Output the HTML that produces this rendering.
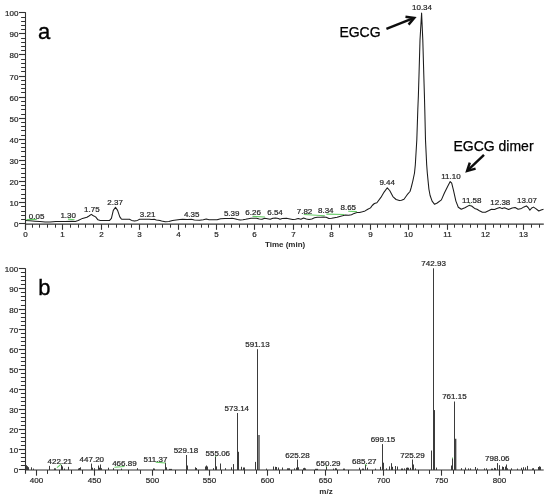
<!DOCTYPE html>
<html><head><meta charset="utf-8"><style>
html,body{margin:0;padding:0;background:#fff;}
body{width:550px;height:498px;overflow:hidden;}
svg{display:block;will-change:transform;}
text{font-family:"Liberation Sans",sans-serif;fill:#282828;}
.t{font-size:8px;stroke:#282828;stroke-width:0.22px;}
.tb{font-size:8px;font-weight:bold;}
.big{font-size:22px;fill:#000;stroke:#000;stroke-width:0.35px;}
.ann{font-size:14px;fill:#000;stroke:#000;stroke-width:0.25px;}
</style></head><body>
<svg width="550" height="498" viewBox="0 0 550 498">
<defs><filter id="bl" x="0" y="0" width="1" height="1"><feGaussianBlur stdDeviation="0.35"/></filter></defs>
<g filter="url(#bl)">
<rect width="550" height="498" fill="#fff"/>
<line x1="25.5" y1="12.20" x2="25.5" y2="229.70" stroke="#333333" stroke-width="1.1"/>
<line x1="19" y1="223.50" x2="25.5" y2="223.50" stroke="#333333" stroke-width="1.1"/>
<text x="18.4" y="227.00" text-anchor="end" class="t">0</text>
<line x1="21.1" y1="219.50" x2="25.5" y2="219.50" stroke="#333333" stroke-width="1.0"/>
<line x1="21.1" y1="215.50" x2="25.5" y2="215.50" stroke="#333333" stroke-width="1.0"/>
<line x1="21.1" y1="211.50" x2="25.5" y2="211.50" stroke="#333333" stroke-width="1.0"/>
<line x1="21.1" y1="206.50" x2="25.5" y2="206.50" stroke="#333333" stroke-width="1.0"/>
<line x1="19" y1="202.50" x2="25.5" y2="202.50" stroke="#333333" stroke-width="1.1"/>
<text x="18.4" y="206.00" text-anchor="end" class="t">10</text>
<line x1="21.1" y1="198.50" x2="25.5" y2="198.50" stroke="#333333" stroke-width="1.0"/>
<line x1="21.1" y1="194.50" x2="25.5" y2="194.50" stroke="#333333" stroke-width="1.0"/>
<line x1="21.1" y1="189.50" x2="25.5" y2="189.50" stroke="#333333" stroke-width="1.0"/>
<line x1="21.1" y1="185.50" x2="25.5" y2="185.50" stroke="#333333" stroke-width="1.0"/>
<line x1="19" y1="181.50" x2="25.5" y2="181.50" stroke="#333333" stroke-width="1.1"/>
<text x="18.4" y="185.00" text-anchor="end" class="t">20</text>
<line x1="21.1" y1="177.50" x2="25.5" y2="177.50" stroke="#333333" stroke-width="1.0"/>
<line x1="21.1" y1="173.50" x2="25.5" y2="173.50" stroke="#333333" stroke-width="1.0"/>
<line x1="21.1" y1="168.50" x2="25.5" y2="168.50" stroke="#333333" stroke-width="1.0"/>
<line x1="21.1" y1="164.50" x2="25.5" y2="164.50" stroke="#333333" stroke-width="1.0"/>
<line x1="19" y1="160.50" x2="25.5" y2="160.50" stroke="#333333" stroke-width="1.1"/>
<text x="18.4" y="164.00" text-anchor="end" class="t">30</text>
<line x1="21.1" y1="156.50" x2="25.5" y2="156.50" stroke="#333333" stroke-width="1.0"/>
<line x1="21.1" y1="151.50" x2="25.5" y2="151.50" stroke="#333333" stroke-width="1.0"/>
<line x1="21.1" y1="147.50" x2="25.5" y2="147.50" stroke="#333333" stroke-width="1.0"/>
<line x1="21.1" y1="143.50" x2="25.5" y2="143.50" stroke="#333333" stroke-width="1.0"/>
<line x1="19" y1="139.50" x2="25.5" y2="139.50" stroke="#333333" stroke-width="1.1"/>
<text x="18.4" y="143.00" text-anchor="end" class="t">40</text>
<line x1="21.1" y1="135.50" x2="25.5" y2="135.50" stroke="#333333" stroke-width="1.0"/>
<line x1="21.1" y1="130.50" x2="25.5" y2="130.50" stroke="#333333" stroke-width="1.0"/>
<line x1="21.1" y1="126.50" x2="25.5" y2="126.50" stroke="#333333" stroke-width="1.0"/>
<line x1="21.1" y1="122.50" x2="25.5" y2="122.50" stroke="#333333" stroke-width="1.0"/>
<line x1="19" y1="118.50" x2="25.5" y2="118.50" stroke="#333333" stroke-width="1.1"/>
<text x="18.4" y="122.00" text-anchor="end" class="t">50</text>
<line x1="21.1" y1="114.50" x2="25.5" y2="114.50" stroke="#333333" stroke-width="1.0"/>
<line x1="21.1" y1="109.50" x2="25.5" y2="109.50" stroke="#333333" stroke-width="1.0"/>
<line x1="21.1" y1="105.50" x2="25.5" y2="105.50" stroke="#333333" stroke-width="1.0"/>
<line x1="21.1" y1="101.50" x2="25.5" y2="101.50" stroke="#333333" stroke-width="1.0"/>
<line x1="19" y1="97.50" x2="25.5" y2="97.50" stroke="#333333" stroke-width="1.1"/>
<text x="18.4" y="101.00" text-anchor="end" class="t">60</text>
<line x1="21.1" y1="92.50" x2="25.5" y2="92.50" stroke="#333333" stroke-width="1.0"/>
<line x1="21.1" y1="88.50" x2="25.5" y2="88.50" stroke="#333333" stroke-width="1.0"/>
<line x1="21.1" y1="84.50" x2="25.5" y2="84.50" stroke="#333333" stroke-width="1.0"/>
<line x1="21.1" y1="80.50" x2="25.5" y2="80.50" stroke="#333333" stroke-width="1.0"/>
<line x1="19" y1="76.50" x2="25.5" y2="76.50" stroke="#333333" stroke-width="1.1"/>
<text x="18.4" y="80.00" text-anchor="end" class="t">70</text>
<line x1="21.1" y1="71.50" x2="25.5" y2="71.50" stroke="#333333" stroke-width="1.0"/>
<line x1="21.1" y1="67.50" x2="25.5" y2="67.50" stroke="#333333" stroke-width="1.0"/>
<line x1="21.1" y1="63.50" x2="25.5" y2="63.50" stroke="#333333" stroke-width="1.0"/>
<line x1="21.1" y1="59.50" x2="25.5" y2="59.50" stroke="#333333" stroke-width="1.0"/>
<line x1="19" y1="54.50" x2="25.5" y2="54.50" stroke="#333333" stroke-width="1.1"/>
<text x="18.4" y="58.00" text-anchor="end" class="t">80</text>
<line x1="21.1" y1="50.50" x2="25.5" y2="50.50" stroke="#333333" stroke-width="1.0"/>
<line x1="21.1" y1="46.50" x2="25.5" y2="46.50" stroke="#333333" stroke-width="1.0"/>
<line x1="21.1" y1="42.50" x2="25.5" y2="42.50" stroke="#333333" stroke-width="1.0"/>
<line x1="21.1" y1="38.50" x2="25.5" y2="38.50" stroke="#333333" stroke-width="1.0"/>
<line x1="19" y1="33.50" x2="25.5" y2="33.50" stroke="#333333" stroke-width="1.1"/>
<text x="18.4" y="37.00" text-anchor="end" class="t">90</text>
<line x1="21.1" y1="29.50" x2="25.5" y2="29.50" stroke="#333333" stroke-width="1.0"/>
<line x1="21.1" y1="25.50" x2="25.5" y2="25.50" stroke="#333333" stroke-width="1.0"/>
<line x1="21.1" y1="21.50" x2="25.5" y2="21.50" stroke="#333333" stroke-width="1.0"/>
<line x1="21.1" y1="17.50" x2="25.5" y2="17.50" stroke="#333333" stroke-width="1.0"/>
<line x1="19" y1="12.50" x2="25.5" y2="12.50" stroke="#333333" stroke-width="1.1"/>
<text x="18.4" y="16.00" text-anchor="end" class="t">100</text>
<line x1="25.5" y1="224.2" x2="543.8" y2="224.2" stroke="#333333" stroke-width="1.3"/>
<line x1="25.50" y1="224.2" x2="25.50" y2="229.8" stroke="#333333" stroke-width="1.1"/>
<text x="25.50" y="236.7" text-anchor="middle" class="t">0</text>
<line x1="32.50" y1="224.2" x2="32.50" y2="227.7" stroke="#333333" stroke-width="1.0"/>
<line x1="39.50" y1="224.2" x2="39.50" y2="227.7" stroke="#333333" stroke-width="1.0"/>
<line x1="47.50" y1="224.2" x2="47.50" y2="227.7" stroke="#333333" stroke-width="1.0"/>
<line x1="55.50" y1="224.2" x2="55.50" y2="227.7" stroke="#333333" stroke-width="1.0"/>
<line x1="62.50" y1="224.2" x2="62.50" y2="229.8" stroke="#333333" stroke-width="1.1"/>
<text x="62.50" y="236.7" text-anchor="middle" class="t">1</text>
<line x1="70.50" y1="224.2" x2="70.50" y2="227.7" stroke="#333333" stroke-width="1.0"/>
<line x1="78.50" y1="224.2" x2="78.50" y2="227.7" stroke="#333333" stroke-width="1.0"/>
<line x1="85.50" y1="224.2" x2="85.50" y2="227.7" stroke="#333333" stroke-width="1.0"/>
<line x1="93.50" y1="224.2" x2="93.50" y2="227.7" stroke="#333333" stroke-width="1.0"/>
<line x1="101.50" y1="224.2" x2="101.50" y2="229.8" stroke="#333333" stroke-width="1.1"/>
<text x="101.50" y="236.7" text-anchor="middle" class="t">2</text>
<line x1="108.50" y1="224.2" x2="108.50" y2="227.7" stroke="#333333" stroke-width="1.0"/>
<line x1="116.50" y1="224.2" x2="116.50" y2="227.7" stroke="#333333" stroke-width="1.0"/>
<line x1="124.50" y1="224.2" x2="124.50" y2="227.7" stroke="#333333" stroke-width="1.0"/>
<line x1="131.50" y1="224.2" x2="131.50" y2="227.7" stroke="#333333" stroke-width="1.0"/>
<line x1="139.50" y1="224.2" x2="139.50" y2="229.8" stroke="#333333" stroke-width="1.1"/>
<text x="139.50" y="236.7" text-anchor="middle" class="t">3</text>
<line x1="147.50" y1="224.2" x2="147.50" y2="227.7" stroke="#333333" stroke-width="1.0"/>
<line x1="155.50" y1="224.2" x2="155.50" y2="227.7" stroke="#333333" stroke-width="1.0"/>
<line x1="162.50" y1="224.2" x2="162.50" y2="227.7" stroke="#333333" stroke-width="1.0"/>
<line x1="170.50" y1="224.2" x2="170.50" y2="227.7" stroke="#333333" stroke-width="1.0"/>
<line x1="178.50" y1="224.2" x2="178.50" y2="229.8" stroke="#333333" stroke-width="1.1"/>
<text x="178.50" y="236.7" text-anchor="middle" class="t">4</text>
<line x1="185.50" y1="224.2" x2="185.50" y2="227.7" stroke="#333333" stroke-width="1.0"/>
<line x1="193.50" y1="224.2" x2="193.50" y2="227.7" stroke="#333333" stroke-width="1.0"/>
<line x1="201.50" y1="224.2" x2="201.50" y2="227.7" stroke="#333333" stroke-width="1.0"/>
<line x1="208.50" y1="224.2" x2="208.50" y2="227.7" stroke="#333333" stroke-width="1.0"/>
<line x1="216.50" y1="224.2" x2="216.50" y2="229.8" stroke="#333333" stroke-width="1.1"/>
<text x="216.50" y="236.7" text-anchor="middle" class="t">5</text>
<line x1="224.50" y1="224.2" x2="224.50" y2="227.7" stroke="#333333" stroke-width="1.0"/>
<line x1="231.50" y1="224.2" x2="231.50" y2="227.7" stroke="#333333" stroke-width="1.0"/>
<line x1="239.50" y1="224.2" x2="239.50" y2="227.7" stroke="#333333" stroke-width="1.0"/>
<line x1="247.50" y1="224.2" x2="247.50" y2="227.7" stroke="#333333" stroke-width="1.0"/>
<line x1="254.50" y1="224.2" x2="254.50" y2="229.8" stroke="#333333" stroke-width="1.1"/>
<text x="254.50" y="236.7" text-anchor="middle" class="t">6</text>
<line x1="262.50" y1="224.2" x2="262.50" y2="227.7" stroke="#333333" stroke-width="1.0"/>
<line x1="270.50" y1="224.2" x2="270.50" y2="227.7" stroke="#333333" stroke-width="1.0"/>
<line x1="277.50" y1="224.2" x2="277.50" y2="227.7" stroke="#333333" stroke-width="1.0"/>
<line x1="285.50" y1="224.2" x2="285.50" y2="227.7" stroke="#333333" stroke-width="1.0"/>
<line x1="293.50" y1="224.2" x2="293.50" y2="229.8" stroke="#333333" stroke-width="1.1"/>
<text x="293.50" y="236.7" text-anchor="middle" class="t">7</text>
<line x1="301.50" y1="224.2" x2="301.50" y2="227.7" stroke="#333333" stroke-width="1.0"/>
<line x1="308.50" y1="224.2" x2="308.50" y2="227.7" stroke="#333333" stroke-width="1.0"/>
<line x1="316.50" y1="224.2" x2="316.50" y2="227.7" stroke="#333333" stroke-width="1.0"/>
<line x1="324.50" y1="224.2" x2="324.50" y2="227.7" stroke="#333333" stroke-width="1.0"/>
<line x1="331.50" y1="224.2" x2="331.50" y2="229.8" stroke="#333333" stroke-width="1.1"/>
<text x="331.50" y="236.7" text-anchor="middle" class="t">8</text>
<line x1="339.50" y1="224.2" x2="339.50" y2="227.7" stroke="#333333" stroke-width="1.0"/>
<line x1="347.50" y1="224.2" x2="347.50" y2="227.7" stroke="#333333" stroke-width="1.0"/>
<line x1="354.50" y1="224.2" x2="354.50" y2="227.7" stroke="#333333" stroke-width="1.0"/>
<line x1="362.50" y1="224.2" x2="362.50" y2="227.7" stroke="#333333" stroke-width="1.0"/>
<line x1="370.50" y1="224.2" x2="370.50" y2="229.8" stroke="#333333" stroke-width="1.1"/>
<text x="370.50" y="236.7" text-anchor="middle" class="t">9</text>
<line x1="377.50" y1="224.2" x2="377.50" y2="227.7" stroke="#333333" stroke-width="1.0"/>
<line x1="385.50" y1="224.2" x2="385.50" y2="227.7" stroke="#333333" stroke-width="1.0"/>
<line x1="393.50" y1="224.2" x2="393.50" y2="227.7" stroke="#333333" stroke-width="1.0"/>
<line x1="400.50" y1="224.2" x2="400.50" y2="227.7" stroke="#333333" stroke-width="1.0"/>
<line x1="408.50" y1="224.2" x2="408.50" y2="229.8" stroke="#333333" stroke-width="1.1"/>
<text x="408.50" y="236.7" text-anchor="middle" class="t">10</text>
<line x1="416.50" y1="224.2" x2="416.50" y2="227.7" stroke="#333333" stroke-width="1.0"/>
<line x1="423.50" y1="224.2" x2="423.50" y2="227.7" stroke="#333333" stroke-width="1.0"/>
<line x1="431.50" y1="224.2" x2="431.50" y2="227.7" stroke="#333333" stroke-width="1.0"/>
<line x1="439.50" y1="224.2" x2="439.50" y2="227.7" stroke="#333333" stroke-width="1.0"/>
<line x1="447.50" y1="224.2" x2="447.50" y2="229.8" stroke="#333333" stroke-width="1.1"/>
<text x="447.50" y="236.7" text-anchor="middle" class="t">11</text>
<line x1="454.50" y1="224.2" x2="454.50" y2="227.7" stroke="#333333" stroke-width="1.0"/>
<line x1="462.50" y1="224.2" x2="462.50" y2="227.7" stroke="#333333" stroke-width="1.0"/>
<line x1="470.50" y1="224.2" x2="470.50" y2="227.7" stroke="#333333" stroke-width="1.0"/>
<line x1="477.50" y1="224.2" x2="477.50" y2="227.7" stroke="#333333" stroke-width="1.0"/>
<line x1="485.50" y1="224.2" x2="485.50" y2="229.8" stroke="#333333" stroke-width="1.1"/>
<text x="485.50" y="236.7" text-anchor="middle" class="t">12</text>
<line x1="493.50" y1="224.2" x2="493.50" y2="227.7" stroke="#333333" stroke-width="1.0"/>
<line x1="500.50" y1="224.2" x2="500.50" y2="227.7" stroke="#333333" stroke-width="1.0"/>
<line x1="508.50" y1="224.2" x2="508.50" y2="227.7" stroke="#333333" stroke-width="1.0"/>
<line x1="516.50" y1="224.2" x2="516.50" y2="227.7" stroke="#333333" stroke-width="1.0"/>
<line x1="523.50" y1="224.2" x2="523.50" y2="229.8" stroke="#333333" stroke-width="1.1"/>
<text x="523.50" y="236.7" text-anchor="middle" class="t">13</text>
<line x1="531.50" y1="224.2" x2="531.50" y2="227.7" stroke="#333333" stroke-width="1.0"/>
<line x1="539.50" y1="224.2" x2="539.50" y2="227.7" stroke="#333333" stroke-width="1.0"/>
<text x="285.1" y="247" text-anchor="middle" class="tb">Time (min)</text>
<polyline points="25.6,220.6 30.0,220.8 35.0,221.2 40.0,221.6 45.0,221.9 50.0,222.0 56.0,221.6 65.0,221.4 72.0,221.3 75.3,221.5 78.2,220.5 82.5,218.4 86.9,217.3 89.0,216.0 91.3,214.4 92.9,215.5 95.6,216.9 98.0,219.8 100.2,220.5 109.6,220.4 111.4,218.4 113.3,210.4 115.5,207.2 117.6,210.4 119.8,216.9 121.3,218.9 122.2,219.3 129.5,219.3 131.6,220.4 134.5,221.1 137.5,220.4 139.6,219.3 149.1,219.3 152.0,219.6 154.2,219.3 156.4,220.0 160.0,220.6 161.6,221.1 165.3,221.8 168.9,221.5 172.5,220.4 176.2,220.0 179.8,219.6 182.7,219.3 187.1,219.6 191.5,219.3 194.4,220.0 199.6,220.2 203.3,219.8 206.2,219.1 209.1,219.8 217.1,219.8 220.7,218.7 225.1,218.4 229.8,218.4 232.0,218.3 234.7,218.7 237.5,219.5 240.2,220.1 242.9,219.8 245.6,219.3 248.4,218.7 251.1,218.2 256.5,218.2 259.3,219.0 262.0,219.3 264.7,218.2 267.5,218.7 270.2,219.3 272.9,218.2 275.6,218.1 278.4,218.5 280.0,219.3 282.2,218.5 286.5,218.2 290.0,218.9 292.7,219.5 295.5,219.2 298.2,218.6 300.9,219.2 303.6,218.1 306.4,218.9 309.1,219.5 311.8,218.9 314.5,217.8 317.3,217.3 320.7,217.2 323.5,216.9 326.2,217.2 328.9,218.5 331.6,218.3 334.4,217.7 337.1,217.2 339.8,216.4 342.5,215.8 345.3,215.0 348.7,215.3 351.5,214.7 354.2,213.4 356.9,212.5 359.6,212.4 362.4,211.7 365.1,210.9 367.8,209.3 370.5,207.9 372.2,205.5 374.4,203.5 376.9,202.7 380.9,197.4 384.1,192.1 387.3,187.8 389.7,190.5 392.9,196.6 396.1,199.5 399.4,200.6 401.5,200.3 404.0,199.2 407.2,194.7 410.0,191.5 411.2,187.5 412.8,181.1 414.5,173.0 415.3,165.0 416.8,140.0 417.8,110.0 418.4,95.0 419.0,75.0 420.0,40.0 421.6,13.1 422.8,40.0 423.8,75.0 424.4,95.0 424.8,110.0 425.5,140.0 426.7,165.0 427.3,173.0 428.1,181.1 428.9,189.1 430.1,195.5 432.1,201.2 434.6,204.3 437.2,203.0 441.4,199.9 444.5,192.7 447.5,186.7 450.2,181.6 451.7,183.1 453.5,190.3 455.9,201.1 458.3,207.2 461.3,209.3 464.9,207.8 469.2,205.4 471.6,206.0 474.6,208.4 477.0,209.3 479.4,210.8 482.4,212.2 485.4,212.2 488.5,210.8 491.5,209.2 494.5,209.5 496.8,208.6 499.8,207.5 502.1,208.6 504.5,207.8 508.6,209.5 512.2,208.0 515.1,207.5 518.1,209.2 521.6,208.4 524.0,206.9 526.4,205.9 528.1,207.5 529.9,210.1 531.7,208.0 533.5,207.1 535.8,208.6 538.8,211.0 541.1,210.1 543.5,209.2" fill="none" stroke="#1a1a1a" stroke-width="1.05" stroke-linejoin="round"/>
<line x1="26.5" y1="219.6" x2="36.7" y2="219.4" stroke="#66cc66" stroke-width="1.1"/>
<line x1="68" y1="219.1" x2="74.5" y2="219.8" stroke="#66cc66" stroke-width="1.1"/>
<line x1="252.5" y1="216.4" x2="264.9" y2="217.0" stroke="#66cc66" stroke-width="1.1"/>
<line x1="303.8" y1="214.5" x2="324.9" y2="215.8" stroke="#66cc66" stroke-width="1.1"/>
<line x1="326.4" y1="214.1" x2="344.5" y2="214.5" stroke="#66cc66" stroke-width="1.1"/>
<line x1="348.2" y1="211.3" x2="356.9" y2="211.6" stroke="#66cc66" stroke-width="1.1"/>
<line x1="469.2" y1="203.9" x2="470.4" y2="203.4" stroke="#66cc66" stroke-width="1.1"/>
<text x="36.65" y="218.60" text-anchor="middle" class="t">0.05</text>
<text x="68.20" y="218.00" text-anchor="middle" class="t">1.30</text>
<text x="91.90" y="212.00" text-anchor="middle" class="t">1.75</text>
<text x="115.10" y="205.00" text-anchor="middle" class="t">2.37</text>
<text x="147.60" y="217.00" text-anchor="middle" class="t">3.21</text>
<text x="191.70" y="217.00" text-anchor="middle" class="t">4.35</text>
<text x="231.70" y="216.00" text-anchor="middle" class="t">5.39</text>
<text x="253.10" y="215.00" text-anchor="middle" class="t">6.26</text>
<text x="275.00" y="215.00" text-anchor="middle" class="t">6.54</text>
<text x="304.50" y="214.00" text-anchor="middle" class="t">7.82</text>
<text x="325.80" y="213.00" text-anchor="middle" class="t">8.34</text>
<text x="348.30" y="210.00" text-anchor="middle" class="t">8.65</text>
<text x="387.20" y="185.00" text-anchor="middle" class="t">9.44</text>
<text x="422.00" y="10.00" text-anchor="middle" class="t">10.34</text>
<text x="450.90" y="179.00" text-anchor="middle" class="t">11.10</text>
<text x="471.80" y="202.60" text-anchor="middle" class="t">11.58</text>
<text x="500.30" y="205.00" text-anchor="middle" class="t">12.38</text>
<text x="527.00" y="203.00" text-anchor="middle" class="t">13.07</text>
<text x="38.1" y="39" class="big">a</text>
<text x="360" y="37.0" text-anchor="middle" class="ann">EGCG</text>
<text x="493.5" y="151" text-anchor="middle" class="ann">EGCG dimer</text>
<line x1="386.4" y1="28.9" x2="413.46" y2="18.19" stroke="#111" stroke-width="2.5"/>
<polyline points="408.57,24.66 414.2,17.9 405.47,16.82" fill="none" stroke="#111" stroke-width="2.5" stroke-linejoin="miter" stroke-linecap="butt"/>
<line x1="484.0" y1="154.9" x2="467.68" y2="170.35" stroke="#111" stroke-width="2.5"/>
<polyline points="469.81,162.53 467.1,170.9 475.61,168.65" fill="none" stroke="#111" stroke-width="2.5" stroke-linejoin="miter" stroke-linecap="butt"/>
<line x1="25.5" y1="268.30" x2="25.5" y2="473.8" stroke="#333333" stroke-width="1.1"/>
<line x1="18.8" y1="469.50" x2="25.5" y2="469.50" stroke="#333333" stroke-width="1.1"/>
<text x="18.2" y="472.80" text-anchor="end" class="t">0</text>
<line x1="20.9" y1="465.50" x2="25.5" y2="465.50" stroke="#333333" stroke-width="1.0"/>
<line x1="20.9" y1="461.50" x2="25.5" y2="461.50" stroke="#333333" stroke-width="1.0"/>
<line x1="20.9" y1="457.50" x2="25.5" y2="457.50" stroke="#333333" stroke-width="1.0"/>
<line x1="20.9" y1="453.50" x2="25.5" y2="453.50" stroke="#333333" stroke-width="1.0"/>
<line x1="18.8" y1="449.50" x2="25.5" y2="449.50" stroke="#333333" stroke-width="1.1"/>
<text x="18.2" y="452.80" text-anchor="end" class="t">10</text>
<line x1="20.9" y1="445.50" x2="25.5" y2="445.50" stroke="#333333" stroke-width="1.0"/>
<line x1="20.9" y1="441.50" x2="25.5" y2="441.50" stroke="#333333" stroke-width="1.0"/>
<line x1="20.9" y1="437.50" x2="25.5" y2="437.50" stroke="#333333" stroke-width="1.0"/>
<line x1="20.9" y1="433.50" x2="25.5" y2="433.50" stroke="#333333" stroke-width="1.0"/>
<line x1="18.8" y1="429.50" x2="25.5" y2="429.50" stroke="#333333" stroke-width="1.1"/>
<text x="18.2" y="432.80" text-anchor="end" class="t">20</text>
<line x1="20.9" y1="425.50" x2="25.5" y2="425.50" stroke="#333333" stroke-width="1.0"/>
<line x1="20.9" y1="421.50" x2="25.5" y2="421.50" stroke="#333333" stroke-width="1.0"/>
<line x1="20.9" y1="417.50" x2="25.5" y2="417.50" stroke="#333333" stroke-width="1.0"/>
<line x1="20.9" y1="413.50" x2="25.5" y2="413.50" stroke="#333333" stroke-width="1.0"/>
<line x1="18.8" y1="409.50" x2="25.5" y2="409.50" stroke="#333333" stroke-width="1.1"/>
<text x="18.2" y="412.80" text-anchor="end" class="t">30</text>
<line x1="20.9" y1="405.50" x2="25.5" y2="405.50" stroke="#333333" stroke-width="1.0"/>
<line x1="20.9" y1="401.50" x2="25.5" y2="401.50" stroke="#333333" stroke-width="1.0"/>
<line x1="20.9" y1="397.50" x2="25.5" y2="397.50" stroke="#333333" stroke-width="1.0"/>
<line x1="20.9" y1="393.50" x2="25.5" y2="393.50" stroke="#333333" stroke-width="1.0"/>
<line x1="18.8" y1="389.50" x2="25.5" y2="389.50" stroke="#333333" stroke-width="1.1"/>
<text x="18.2" y="392.80" text-anchor="end" class="t">40</text>
<line x1="20.9" y1="385.50" x2="25.5" y2="385.50" stroke="#333333" stroke-width="1.0"/>
<line x1="20.9" y1="381.50" x2="25.5" y2="381.50" stroke="#333333" stroke-width="1.0"/>
<line x1="20.9" y1="377.50" x2="25.5" y2="377.50" stroke="#333333" stroke-width="1.0"/>
<line x1="20.9" y1="373.50" x2="25.5" y2="373.50" stroke="#333333" stroke-width="1.0"/>
<line x1="18.8" y1="369.50" x2="25.5" y2="369.50" stroke="#333333" stroke-width="1.1"/>
<text x="18.2" y="372.80" text-anchor="end" class="t">50</text>
<line x1="20.9" y1="365.50" x2="25.5" y2="365.50" stroke="#333333" stroke-width="1.0"/>
<line x1="20.9" y1="361.50" x2="25.5" y2="361.50" stroke="#333333" stroke-width="1.0"/>
<line x1="20.9" y1="357.50" x2="25.5" y2="357.50" stroke="#333333" stroke-width="1.0"/>
<line x1="20.9" y1="353.50" x2="25.5" y2="353.50" stroke="#333333" stroke-width="1.0"/>
<line x1="18.8" y1="349.50" x2="25.5" y2="349.50" stroke="#333333" stroke-width="1.1"/>
<text x="18.2" y="352.80" text-anchor="end" class="t">60</text>
<line x1="20.9" y1="345.50" x2="25.5" y2="345.50" stroke="#333333" stroke-width="1.0"/>
<line x1="20.9" y1="341.50" x2="25.5" y2="341.50" stroke="#333333" stroke-width="1.0"/>
<line x1="20.9" y1="337.50" x2="25.5" y2="337.50" stroke="#333333" stroke-width="1.0"/>
<line x1="20.9" y1="333.50" x2="25.5" y2="333.50" stroke="#333333" stroke-width="1.0"/>
<line x1="18.8" y1="329.50" x2="25.5" y2="329.50" stroke="#333333" stroke-width="1.1"/>
<text x="18.2" y="332.80" text-anchor="end" class="t">70</text>
<line x1="20.9" y1="325.50" x2="25.5" y2="325.50" stroke="#333333" stroke-width="1.0"/>
<line x1="20.9" y1="321.50" x2="25.5" y2="321.50" stroke="#333333" stroke-width="1.0"/>
<line x1="20.9" y1="317.50" x2="25.5" y2="317.50" stroke="#333333" stroke-width="1.0"/>
<line x1="20.9" y1="313.50" x2="25.5" y2="313.50" stroke="#333333" stroke-width="1.0"/>
<line x1="18.8" y1="309.50" x2="25.5" y2="309.50" stroke="#333333" stroke-width="1.1"/>
<text x="18.2" y="312.80" text-anchor="end" class="t">80</text>
<line x1="20.9" y1="305.50" x2="25.5" y2="305.50" stroke="#333333" stroke-width="1.0"/>
<line x1="20.9" y1="300.50" x2="25.5" y2="300.50" stroke="#333333" stroke-width="1.0"/>
<line x1="20.9" y1="296.50" x2="25.5" y2="296.50" stroke="#333333" stroke-width="1.0"/>
<line x1="20.9" y1="292.50" x2="25.5" y2="292.50" stroke="#333333" stroke-width="1.0"/>
<line x1="18.8" y1="288.50" x2="25.5" y2="288.50" stroke="#333333" stroke-width="1.1"/>
<text x="18.2" y="291.80" text-anchor="end" class="t">90</text>
<line x1="20.9" y1="284.50" x2="25.5" y2="284.50" stroke="#333333" stroke-width="1.0"/>
<line x1="20.9" y1="280.50" x2="25.5" y2="280.50" stroke="#333333" stroke-width="1.0"/>
<line x1="20.9" y1="276.50" x2="25.5" y2="276.50" stroke="#333333" stroke-width="1.0"/>
<line x1="20.9" y1="272.50" x2="25.5" y2="272.50" stroke="#333333" stroke-width="1.0"/>
<line x1="18.8" y1="268.50" x2="25.5" y2="268.50" stroke="#333333" stroke-width="1.1"/>
<text x="18.2" y="271.80" text-anchor="end" class="t">100</text>
<line x1="25.5" y1="470.0" x2="543.7" y2="470.0" stroke="#333333" stroke-width="1.1"/>
<line x1="36.50" y1="470.0" x2="36.50" y2="475.7" stroke="#333333" stroke-width="1.1"/>
<text x="36.50" y="482.6" text-anchor="middle" class="t">400</text>
<line x1="47.50" y1="470.0" x2="47.50" y2="473.9" stroke="#333333" stroke-width="1.0"/>
<line x1="59.50" y1="470.0" x2="59.50" y2="473.9" stroke="#333333" stroke-width="1.0"/>
<line x1="71.50" y1="470.0" x2="71.50" y2="473.9" stroke="#333333" stroke-width="1.0"/>
<line x1="82.50" y1="470.0" x2="82.50" y2="473.9" stroke="#333333" stroke-width="1.0"/>
<line x1="94.50" y1="470.0" x2="94.50" y2="475.7" stroke="#333333" stroke-width="1.1"/>
<text x="94.50" y="482.6" text-anchor="middle" class="t">450</text>
<line x1="105.50" y1="470.0" x2="105.50" y2="473.9" stroke="#333333" stroke-width="1.0"/>
<line x1="117.50" y1="470.0" x2="117.50" y2="473.9" stroke="#333333" stroke-width="1.0"/>
<line x1="128.50" y1="470.0" x2="128.50" y2="473.9" stroke="#333333" stroke-width="1.0"/>
<line x1="140.50" y1="470.0" x2="140.50" y2="473.9" stroke="#333333" stroke-width="1.0"/>
<line x1="152.50" y1="470.0" x2="152.50" y2="475.7" stroke="#333333" stroke-width="1.1"/>
<text x="152.50" y="482.6" text-anchor="middle" class="t">500</text>
<line x1="163.50" y1="470.0" x2="163.50" y2="473.9" stroke="#333333" stroke-width="1.0"/>
<line x1="175.50" y1="470.0" x2="175.50" y2="473.9" stroke="#333333" stroke-width="1.0"/>
<line x1="186.50" y1="470.0" x2="186.50" y2="473.9" stroke="#333333" stroke-width="1.0"/>
<line x1="198.50" y1="470.0" x2="198.50" y2="473.9" stroke="#333333" stroke-width="1.0"/>
<line x1="209.50" y1="470.0" x2="209.50" y2="475.7" stroke="#333333" stroke-width="1.1"/>
<text x="209.50" y="482.6" text-anchor="middle" class="t">550</text>
<line x1="221.50" y1="470.0" x2="221.50" y2="473.9" stroke="#333333" stroke-width="1.0"/>
<line x1="233.50" y1="470.0" x2="233.50" y2="473.9" stroke="#333333" stroke-width="1.0"/>
<line x1="244.50" y1="470.0" x2="244.50" y2="473.9" stroke="#333333" stroke-width="1.0"/>
<line x1="256.50" y1="470.0" x2="256.50" y2="473.9" stroke="#333333" stroke-width="1.0"/>
<line x1="267.50" y1="470.0" x2="267.50" y2="475.7" stroke="#333333" stroke-width="1.1"/>
<text x="267.50" y="482.6" text-anchor="middle" class="t">600</text>
<line x1="279.50" y1="470.0" x2="279.50" y2="473.9" stroke="#333333" stroke-width="1.0"/>
<line x1="291.50" y1="470.0" x2="291.50" y2="473.9" stroke="#333333" stroke-width="1.0"/>
<line x1="302.50" y1="470.0" x2="302.50" y2="473.9" stroke="#333333" stroke-width="1.0"/>
<line x1="314.50" y1="470.0" x2="314.50" y2="473.9" stroke="#333333" stroke-width="1.0"/>
<line x1="325.50" y1="470.0" x2="325.50" y2="475.7" stroke="#333333" stroke-width="1.1"/>
<text x="325.50" y="482.6" text-anchor="middle" class="t">650</text>
<line x1="337.50" y1="470.0" x2="337.50" y2="473.9" stroke="#333333" stroke-width="1.0"/>
<line x1="348.50" y1="470.0" x2="348.50" y2="473.9" stroke="#333333" stroke-width="1.0"/>
<line x1="360.50" y1="470.0" x2="360.50" y2="473.9" stroke="#333333" stroke-width="1.0"/>
<line x1="372.50" y1="470.0" x2="372.50" y2="473.9" stroke="#333333" stroke-width="1.0"/>
<line x1="383.50" y1="470.0" x2="383.50" y2="475.7" stroke="#333333" stroke-width="1.1"/>
<text x="383.50" y="482.6" text-anchor="middle" class="t">700</text>
<line x1="395.50" y1="470.0" x2="395.50" y2="473.9" stroke="#333333" stroke-width="1.0"/>
<line x1="406.50" y1="470.0" x2="406.50" y2="473.9" stroke="#333333" stroke-width="1.0"/>
<line x1="418.50" y1="470.0" x2="418.50" y2="473.9" stroke="#333333" stroke-width="1.0"/>
<line x1="429.50" y1="470.0" x2="429.50" y2="473.9" stroke="#333333" stroke-width="1.0"/>
<line x1="441.50" y1="470.0" x2="441.50" y2="475.7" stroke="#333333" stroke-width="1.1"/>
<text x="441.50" y="482.6" text-anchor="middle" class="t">750</text>
<line x1="453.50" y1="470.0" x2="453.50" y2="473.9" stroke="#333333" stroke-width="1.0"/>
<line x1="464.50" y1="470.0" x2="464.50" y2="473.9" stroke="#333333" stroke-width="1.0"/>
<line x1="476.50" y1="470.0" x2="476.50" y2="473.9" stroke="#333333" stroke-width="1.0"/>
<line x1="487.50" y1="470.0" x2="487.50" y2="473.9" stroke="#333333" stroke-width="1.0"/>
<line x1="499.50" y1="470.0" x2="499.50" y2="475.7" stroke="#333333" stroke-width="1.1"/>
<text x="499.50" y="482.6" text-anchor="middle" class="t">800</text>
<line x1="510.50" y1="470.0" x2="510.50" y2="473.9" stroke="#333333" stroke-width="1.0"/>
<line x1="522.50" y1="470.0" x2="522.50" y2="473.9" stroke="#333333" stroke-width="1.0"/>
<line x1="534.50" y1="470.0" x2="534.50" y2="473.9" stroke="#333333" stroke-width="1.0"/>
<text x="326" y="493.5" text-anchor="middle" class="tb">m/z</text>
<text x="38.2" y="295.3" class="big">b</text>
<line x1="26.5" y1="470.0" x2="26.5" y2="465.2" stroke="#3a3a3a" stroke-width="1"/>
<line x1="27.5" y1="470.0" x2="27.5" y2="466.2" stroke="#3a3a3a" stroke-width="1"/>
<line x1="28.5" y1="470.0" x2="28.5" y2="467.2" stroke="#3a3a3a" stroke-width="1"/>
<line x1="31.5" y1="470.0" x2="31.5" y2="467.3" stroke="#3a3a3a" stroke-width="1"/>
<line x1="33.5" y1="470.0" x2="33.5" y2="468.6" stroke="#3a3a3a" stroke-width="1"/>
<line x1="49.5" y1="470.0" x2="49.5" y2="465.9" stroke="#3a3a3a" stroke-width="1"/>
<line x1="54.5" y1="470.0" x2="54.5" y2="468.3" stroke="#3a3a3a" stroke-width="1"/>
<line x1="55.5" y1="470.0" x2="55.5" y2="468.4" stroke="#3a3a3a" stroke-width="1"/>
<line x1="61.5" y1="470.0" x2="61.5" y2="465.0" stroke="#3a3a3a" stroke-width="1"/>
<line x1="62.5" y1="470.0" x2="62.5" y2="466.4" stroke="#3a3a3a" stroke-width="1"/>
<line x1="64.5" y1="470.0" x2="64.5" y2="468.6" stroke="#3a3a3a" stroke-width="1"/>
<line x1="68.5" y1="470.0" x2="68.5" y2="466.8" stroke="#3a3a3a" stroke-width="1"/>
<line x1="78.5" y1="470.0" x2="78.5" y2="468.5" stroke="#3a3a3a" stroke-width="1"/>
<line x1="79.5" y1="470.0" x2="79.5" y2="468.0" stroke="#3a3a3a" stroke-width="1"/>
<line x1="80.5" y1="470.0" x2="80.5" y2="467.3" stroke="#3a3a3a" stroke-width="1"/>
<line x1="91.5" y1="470.0" x2="91.5" y2="463.6" stroke="#3a3a3a" stroke-width="1"/>
<line x1="92.5" y1="470.0" x2="92.5" y2="467.7" stroke="#3a3a3a" stroke-width="1"/>
<line x1="94.5" y1="470.0" x2="94.5" y2="468.2" stroke="#3a3a3a" stroke-width="1"/>
<line x1="98.5" y1="470.0" x2="98.5" y2="465.5" stroke="#3a3a3a" stroke-width="1"/>
<line x1="99.5" y1="470.0" x2="99.5" y2="467.7" stroke="#3a3a3a" stroke-width="1"/>
<line x1="100.5" y1="470.0" x2="100.5" y2="464.5" stroke="#3a3a3a" stroke-width="1"/>
<line x1="101.5" y1="470.0" x2="101.5" y2="468.2" stroke="#3a3a3a" stroke-width="1"/>
<line x1="108.5" y1="470.0" x2="108.5" y2="467.7" stroke="#3a3a3a" stroke-width="1"/>
<line x1="113.5" y1="470.0" x2="113.5" y2="468.2" stroke="#3a3a3a" stroke-width="1"/>
<line x1="121.5" y1="470.0" x2="121.5" y2="468.6" stroke="#3a3a3a" stroke-width="1"/>
<line x1="137.5" y1="470.0" x2="137.5" y2="468.2" stroke="#3a3a3a" stroke-width="1"/>
<line x1="153.5" y1="470.0" x2="153.5" y2="468.4" stroke="#3a3a3a" stroke-width="1"/>
<line x1="154.5" y1="470.0" x2="154.5" y2="468.6" stroke="#3a3a3a" stroke-width="1"/>
<line x1="165.5" y1="470.0" x2="165.5" y2="462.7" stroke="#3a3a3a" stroke-width="1"/>
<line x1="166.5" y1="470.0" x2="166.5" y2="467.3" stroke="#3a3a3a" stroke-width="1"/>
<line x1="169.5" y1="470.0" x2="169.5" y2="468.9" stroke="#3a3a3a" stroke-width="1"/>
<line x1="170.5" y1="470.0" x2="170.5" y2="468.9" stroke="#3a3a3a" stroke-width="1"/>
<line x1="171.5" y1="470.0" x2="171.5" y2="468.9" stroke="#3a3a3a" stroke-width="1"/>
<line x1="186.5" y1="470.0" x2="186.5" y2="455.0" stroke="#3a3a3a" stroke-width="1"/>
<line x1="187.5" y1="470.0" x2="187.5" y2="465.5" stroke="#3a3a3a" stroke-width="1"/>
<line x1="195.5" y1="470.0" x2="195.5" y2="467.3" stroke="#3a3a3a" stroke-width="1"/>
<line x1="196.5" y1="470.0" x2="196.5" y2="468.0" stroke="#3a3a3a" stroke-width="1"/>
<line x1="205.5" y1="470.0" x2="205.5" y2="466.5" stroke="#3a3a3a" stroke-width="1"/>
<line x1="206.5" y1="470.0" x2="206.5" y2="465.5" stroke="#3a3a3a" stroke-width="1"/>
<line x1="207.5" y1="470.0" x2="207.5" y2="466.5" stroke="#3a3a3a" stroke-width="1"/>
<line x1="213.5" y1="470.0" x2="213.5" y2="468.2" stroke="#3a3a3a" stroke-width="1"/>
<line x1="215.5" y1="470.0" x2="215.5" y2="456.4" stroke="#3a3a3a" stroke-width="1"/>
<line x1="216.5" y1="470.0" x2="216.5" y2="466.4" stroke="#3a3a3a" stroke-width="1"/>
<line x1="220.5" y1="470.0" x2="220.5" y2="463.5" stroke="#3a3a3a" stroke-width="1"/>
<line x1="225.5" y1="470.0" x2="225.5" y2="468.2" stroke="#3a3a3a" stroke-width="1"/>
<line x1="231.5" y1="470.0" x2="231.5" y2="467.3" stroke="#3a3a3a" stroke-width="1"/>
<line x1="233.5" y1="470.0" x2="233.5" y2="464.1" stroke="#3a3a3a" stroke-width="1"/>
<line x1="233.5" y1="470.0" x2="233.5" y2="465.9" stroke="#3a3a3a" stroke-width="1"/>
<line x1="237.5" y1="470.0" x2="237.5" y2="413.0" stroke="#3a3a3a" stroke-width="1"/>
<line x1="238.5" y1="470.0" x2="238.5" y2="451.8" stroke="#3a3a3a" stroke-width="1.0"/>
<line x1="241.5" y1="470.0" x2="241.5" y2="466.8" stroke="#3a3a3a" stroke-width="1"/>
<line x1="243.5" y1="470.0" x2="243.5" y2="467.5" stroke="#3a3a3a" stroke-width="1"/>
<line x1="244.5" y1="470.0" x2="244.5" y2="467.5" stroke="#3a3a3a" stroke-width="1"/>
<line x1="255.5" y1="470.0" x2="255.5" y2="461.9" stroke="#3a3a3a" stroke-width="1"/>
<line x1="257.5" y1="470.0" x2="257.5" y2="349.2" stroke="#3a3a3a" stroke-width="1"/>
<line x1="259.0" y1="470.0" x2="259.0" y2="434.9" stroke="#3a3a3a" stroke-width="1.3"/>
<line x1="266.5" y1="470.0" x2="266.5" y2="468.6" stroke="#3a3a3a" stroke-width="1"/>
<line x1="273.5" y1="470.0" x2="273.5" y2="466.5" stroke="#3a3a3a" stroke-width="1"/>
<line x1="275.5" y1="470.0" x2="275.5" y2="466.8" stroke="#3a3a3a" stroke-width="1"/>
<line x1="276.5" y1="470.0" x2="276.5" y2="467" stroke="#3a3a3a" stroke-width="1"/>
<line x1="278.5" y1="470.0" x2="278.5" y2="467.5" stroke="#3a3a3a" stroke-width="1"/>
<line x1="282.5" y1="470.0" x2="282.5" y2="467.5" stroke="#3a3a3a" stroke-width="1"/>
<line x1="287.5" y1="470.0" x2="287.5" y2="468.3" stroke="#3a3a3a" stroke-width="1"/>
<line x1="288.5" y1="470.0" x2="288.5" y2="468.3" stroke="#3a3a3a" stroke-width="1"/>
<line x1="289.5" y1="470.0" x2="289.5" y2="468.3" stroke="#3a3a3a" stroke-width="1"/>
<line x1="294.5" y1="470.0" x2="294.5" y2="468.4" stroke="#3a3a3a" stroke-width="1"/>
<line x1="296.5" y1="470.0" x2="296.5" y2="467.7" stroke="#3a3a3a" stroke-width="1"/>
<line x1="297.5" y1="470.0" x2="297.5" y2="459.5" stroke="#3a3a3a" stroke-width="1"/>
<line x1="298.5" y1="470.0" x2="298.5" y2="467.3" stroke="#3a3a3a" stroke-width="1"/>
<line x1="303.5" y1="470.0" x2="303.5" y2="468.2" stroke="#3a3a3a" stroke-width="1"/>
<line x1="304.5" y1="470.0" x2="304.5" y2="467.8" stroke="#3a3a3a" stroke-width="1"/>
<line x1="305.5" y1="470.0" x2="305.5" y2="468.4" stroke="#3a3a3a" stroke-width="1"/>
<line x1="315.5" y1="470.0" x2="315.5" y2="468.8" stroke="#3a3a3a" stroke-width="1"/>
<line x1="316.5" y1="470.0" x2="316.5" y2="468.8" stroke="#3a3a3a" stroke-width="1"/>
<line x1="317.5" y1="470.0" x2="317.5" y2="468.8" stroke="#3a3a3a" stroke-width="1"/>
<line x1="326.5" y1="470.0" x2="326.5" y2="466.4" stroke="#3a3a3a" stroke-width="1"/>
<line x1="333.5" y1="470.0" x2="333.5" y2="468.6" stroke="#3a3a3a" stroke-width="1"/>
<line x1="335.5" y1="470.0" x2="335.5" y2="468.2" stroke="#3a3a3a" stroke-width="1"/>
<line x1="336.5" y1="470.0" x2="336.5" y2="468.4" stroke="#3a3a3a" stroke-width="1"/>
<line x1="343.5" y1="470.0" x2="343.5" y2="468.6" stroke="#3a3a3a" stroke-width="1"/>
<line x1="344.5" y1="470.0" x2="344.5" y2="468.6" stroke="#3a3a3a" stroke-width="1"/>
<line x1="359.5" y1="470.0" x2="359.5" y2="467.7" stroke="#3a3a3a" stroke-width="1"/>
<line x1="362.5" y1="470.0" x2="362.5" y2="468.6" stroke="#3a3a3a" stroke-width="1"/>
<line x1="363.5" y1="470.0" x2="363.5" y2="468.6" stroke="#3a3a3a" stroke-width="1"/>
<line x1="365.5" y1="470.0" x2="365.5" y2="465.0" stroke="#3a3a3a" stroke-width="1"/>
<line x1="367.5" y1="470.0" x2="367.5" y2="467.7" stroke="#3a3a3a" stroke-width="1"/>
<line x1="375.5" y1="470.0" x2="375.5" y2="468.6" stroke="#3a3a3a" stroke-width="1"/>
<line x1="380.5" y1="470.0" x2="380.5" y2="466.8" stroke="#3a3a3a" stroke-width="1"/>
<line x1="382.5" y1="470.0" x2="382.5" y2="444.1" stroke="#3a3a3a" stroke-width="1"/>
<line x1="383.5" y1="470.0" x2="383.5" y2="462.7" stroke="#3a3a3a" stroke-width="1.0"/>
<line x1="386.5" y1="470.0" x2="386.5" y2="468.4" stroke="#3a3a3a" stroke-width="1"/>
<line x1="389.5" y1="470.0" x2="389.5" y2="466.4" stroke="#3a3a3a" stroke-width="1"/>
<line x1="391.5" y1="470.0" x2="391.5" y2="463.2" stroke="#3a3a3a" stroke-width="1"/>
<line x1="392.5" y1="470.0" x2="392.5" y2="466.8" stroke="#3a3a3a" stroke-width="1"/>
<line x1="395.5" y1="470.0" x2="395.5" y2="466" stroke="#3a3a3a" stroke-width="1"/>
<line x1="397.5" y1="470.0" x2="397.5" y2="466.5" stroke="#3a3a3a" stroke-width="1"/>
<line x1="401.5" y1="470.0" x2="401.5" y2="468.5" stroke="#3a3a3a" stroke-width="1"/>
<line x1="402.5" y1="470.0" x2="402.5" y2="468.5" stroke="#3a3a3a" stroke-width="1"/>
<line x1="404.5" y1="470.0" x2="404.5" y2="468.4" stroke="#3a3a3a" stroke-width="1"/>
<line x1="406.5" y1="470.0" x2="406.5" y2="467.8" stroke="#3a3a3a" stroke-width="1"/>
<line x1="407.5" y1="470.0" x2="407.5" y2="467.5" stroke="#3a3a3a" stroke-width="1"/>
<line x1="408.5" y1="470.0" x2="408.5" y2="467.8" stroke="#3a3a3a" stroke-width="1"/>
<line x1="410.5" y1="470.0" x2="410.5" y2="467.8" stroke="#3a3a3a" stroke-width="1"/>
<line x1="412.5" y1="470.0" x2="412.5" y2="459.5" stroke="#3a3a3a" stroke-width="1"/>
<line x1="413.5" y1="470.0" x2="413.5" y2="464.5" stroke="#3a3a3a" stroke-width="1.0"/>
<line x1="415.5" y1="470.0" x2="415.5" y2="468.4" stroke="#3a3a3a" stroke-width="1"/>
<line x1="431.5" y1="470.0" x2="431.5" y2="450.5" stroke="#3a3a3a" stroke-width="1"/>
<line x1="433.5" y1="470.0" x2="433.5" y2="268.3" stroke="#3a3a3a" stroke-width="1"/>
<line x1="434.5" y1="470.0" x2="434.5" y2="410.1" stroke="#3a3a3a" stroke-width="1.0"/>
<line x1="436.5" y1="470.0" x2="436.5" y2="467.6" stroke="#3a3a3a" stroke-width="1"/>
<line x1="451.5" y1="470.0" x2="451.5" y2="465.5" stroke="#3a3a3a" stroke-width="1"/>
<line x1="452.5" y1="470.0" x2="452.5" y2="458.2" stroke="#3a3a3a" stroke-width="1"/>
<line x1="454.5" y1="470.0" x2="454.5" y2="401.5" stroke="#3a3a3a" stroke-width="1"/>
<line x1="455.7" y1="470.0" x2="455.7" y2="438.7" stroke="#3a3a3a" stroke-width="1.3"/>
<line x1="461.5" y1="470.0" x2="461.5" y2="468.2" stroke="#3a3a3a" stroke-width="1"/>
<line x1="465.5" y1="470.0" x2="465.5" y2="467.6" stroke="#3a3a3a" stroke-width="1"/>
<line x1="468.5" y1="470.0" x2="468.5" y2="468.4" stroke="#3a3a3a" stroke-width="1"/>
<line x1="470.5" y1="470.0" x2="470.5" y2="468.4" stroke="#3a3a3a" stroke-width="1"/>
<line x1="475.5" y1="470.0" x2="475.5" y2="467" stroke="#3a3a3a" stroke-width="1"/>
<line x1="477.5" y1="470.0" x2="477.5" y2="468.4" stroke="#3a3a3a" stroke-width="1"/>
<line x1="484.5" y1="470.0" x2="484.5" y2="468.4" stroke="#3a3a3a" stroke-width="1"/>
<line x1="486.5" y1="470.0" x2="486.5" y2="468.3" stroke="#3a3a3a" stroke-width="1"/>
<line x1="491.5" y1="470.0" x2="491.5" y2="468.6" stroke="#3a3a3a" stroke-width="1"/>
<line x1="492.5" y1="470.0" x2="492.5" y2="468.6" stroke="#3a3a3a" stroke-width="1"/>
<line x1="494.5" y1="470.0" x2="494.5" y2="467.9" stroke="#3a3a3a" stroke-width="1"/>
<line x1="495.5" y1="470.0" x2="495.5" y2="468.2" stroke="#3a3a3a" stroke-width="1"/>
<line x1="497.5" y1="470.0" x2="497.5" y2="463.1" stroke="#3a3a3a" stroke-width="1"/>
<line x1="497.5" y1="470.0" x2="497.5" y2="466.5" stroke="#3a3a3a" stroke-width="1"/>
<line x1="499.5" y1="470.0" x2="499.5" y2="465.2" stroke="#3a3a3a" stroke-width="1"/>
<line x1="502.5" y1="470.0" x2="502.5" y2="466.5" stroke="#3a3a3a" stroke-width="1"/>
<line x1="503.5" y1="470.0" x2="503.5" y2="467" stroke="#3a3a3a" stroke-width="1"/>
<line x1="505.5" y1="470.0" x2="505.5" y2="466.5" stroke="#3a3a3a" stroke-width="1"/>
<line x1="506.5" y1="470.0" x2="506.5" y2="464.5" stroke="#3a3a3a" stroke-width="1"/>
<line x1="507.5" y1="470.0" x2="507.5" y2="468.3" stroke="#3a3a3a" stroke-width="1"/>
<line x1="511.5" y1="470.0" x2="511.5" y2="468.3" stroke="#3a3a3a" stroke-width="1"/>
<line x1="517.5" y1="470.0" x2="517.5" y2="468.6" stroke="#3a3a3a" stroke-width="1"/>
<line x1="521.5" y1="470.0" x2="521.5" y2="467.8" stroke="#3a3a3a" stroke-width="1"/>
<line x1="523.5" y1="470.0" x2="523.5" y2="467.2" stroke="#3a3a3a" stroke-width="1"/>
<line x1="525.5" y1="470.0" x2="525.5" y2="467.4" stroke="#3a3a3a" stroke-width="1"/>
<line x1="527.5" y1="470.0" x2="527.5" y2="465.9" stroke="#3a3a3a" stroke-width="1"/>
<line x1="532.5" y1="470.0" x2="532.5" y2="468.4" stroke="#3a3a3a" stroke-width="1"/>
<line x1="533.5" y1="470.0" x2="533.5" y2="468.2" stroke="#3a3a3a" stroke-width="1"/>
<line x1="538.5" y1="470.0" x2="538.5" y2="467" stroke="#3a3a3a" stroke-width="1"/>
<line x1="539.5" y1="470.0" x2="539.5" y2="466.3" stroke="#3a3a3a" stroke-width="1"/>
<line x1="540.5" y1="470.0" x2="540.5" y2="466.8" stroke="#3a3a3a" stroke-width="1"/>
<line x1="114.4" y1="467.2" x2="124.4" y2="466.5" stroke="#66cc66" stroke-width="1.1"/>
<line x1="155.7" y1="462.1" x2="165.3" y2="463.0" stroke="#66cc66" stroke-width="1.1"/>
<line x1="57.0" y1="467.7" x2="61.2" y2="464.2" stroke="#66cc66" stroke-width="1.1"/>
<line x1="215.0" y1="456.3" x2="216.5" y2="456.3" stroke="#66cc66" stroke-width="1.1"/>
<line x1="325.8" y1="466.4" x2="327.0" y2="466.0" stroke="#66cc66" stroke-width="1.1"/>
<line x1="365.0" y1="464.1" x2="366.8" y2="465.6" stroke="#66cc66" stroke-width="1.1"/>
<line x1="452.0" y1="458.0" x2="453.0" y2="458.0" stroke="#66cc66" stroke-width="1.1"/>
<text x="59.80" y="463.60" text-anchor="middle" class="t">422.21</text>
<text x="91.80" y="462.00" text-anchor="middle" class="t">447.20</text>
<text x="124.40" y="466.00" text-anchor="middle" class="t">466.89</text>
<text x="155.40" y="461.60" text-anchor="middle" class="t">511.37</text>
<text x="185.90" y="453.00" text-anchor="middle" class="t">529.18</text>
<text x="217.80" y="455.60" text-anchor="middle" class="t">555.06</text>
<text x="236.80" y="411.00" text-anchor="middle" class="t">573.14</text>
<text x="257.50" y="347.00" text-anchor="middle" class="t">591.13</text>
<text x="297.50" y="457.60" text-anchor="middle" class="t">625.28</text>
<text x="328.30" y="466.00" text-anchor="middle" class="t">650.29</text>
<text x="364.30" y="464.00" text-anchor="middle" class="t">685.27</text>
<text x="382.90" y="442.00" text-anchor="middle" class="t">699.15</text>
<text x="412.50" y="458.00" text-anchor="middle" class="t">725.29</text>
<text x="433.60" y="266.00" text-anchor="middle" class="t">742.93</text>
<text x="454.40" y="399.00" text-anchor="middle" class="t">761.15</text>
<text x="497.30" y="460.60" text-anchor="middle" class="t">798.06</text>
</g>
</svg>
</body></html>
